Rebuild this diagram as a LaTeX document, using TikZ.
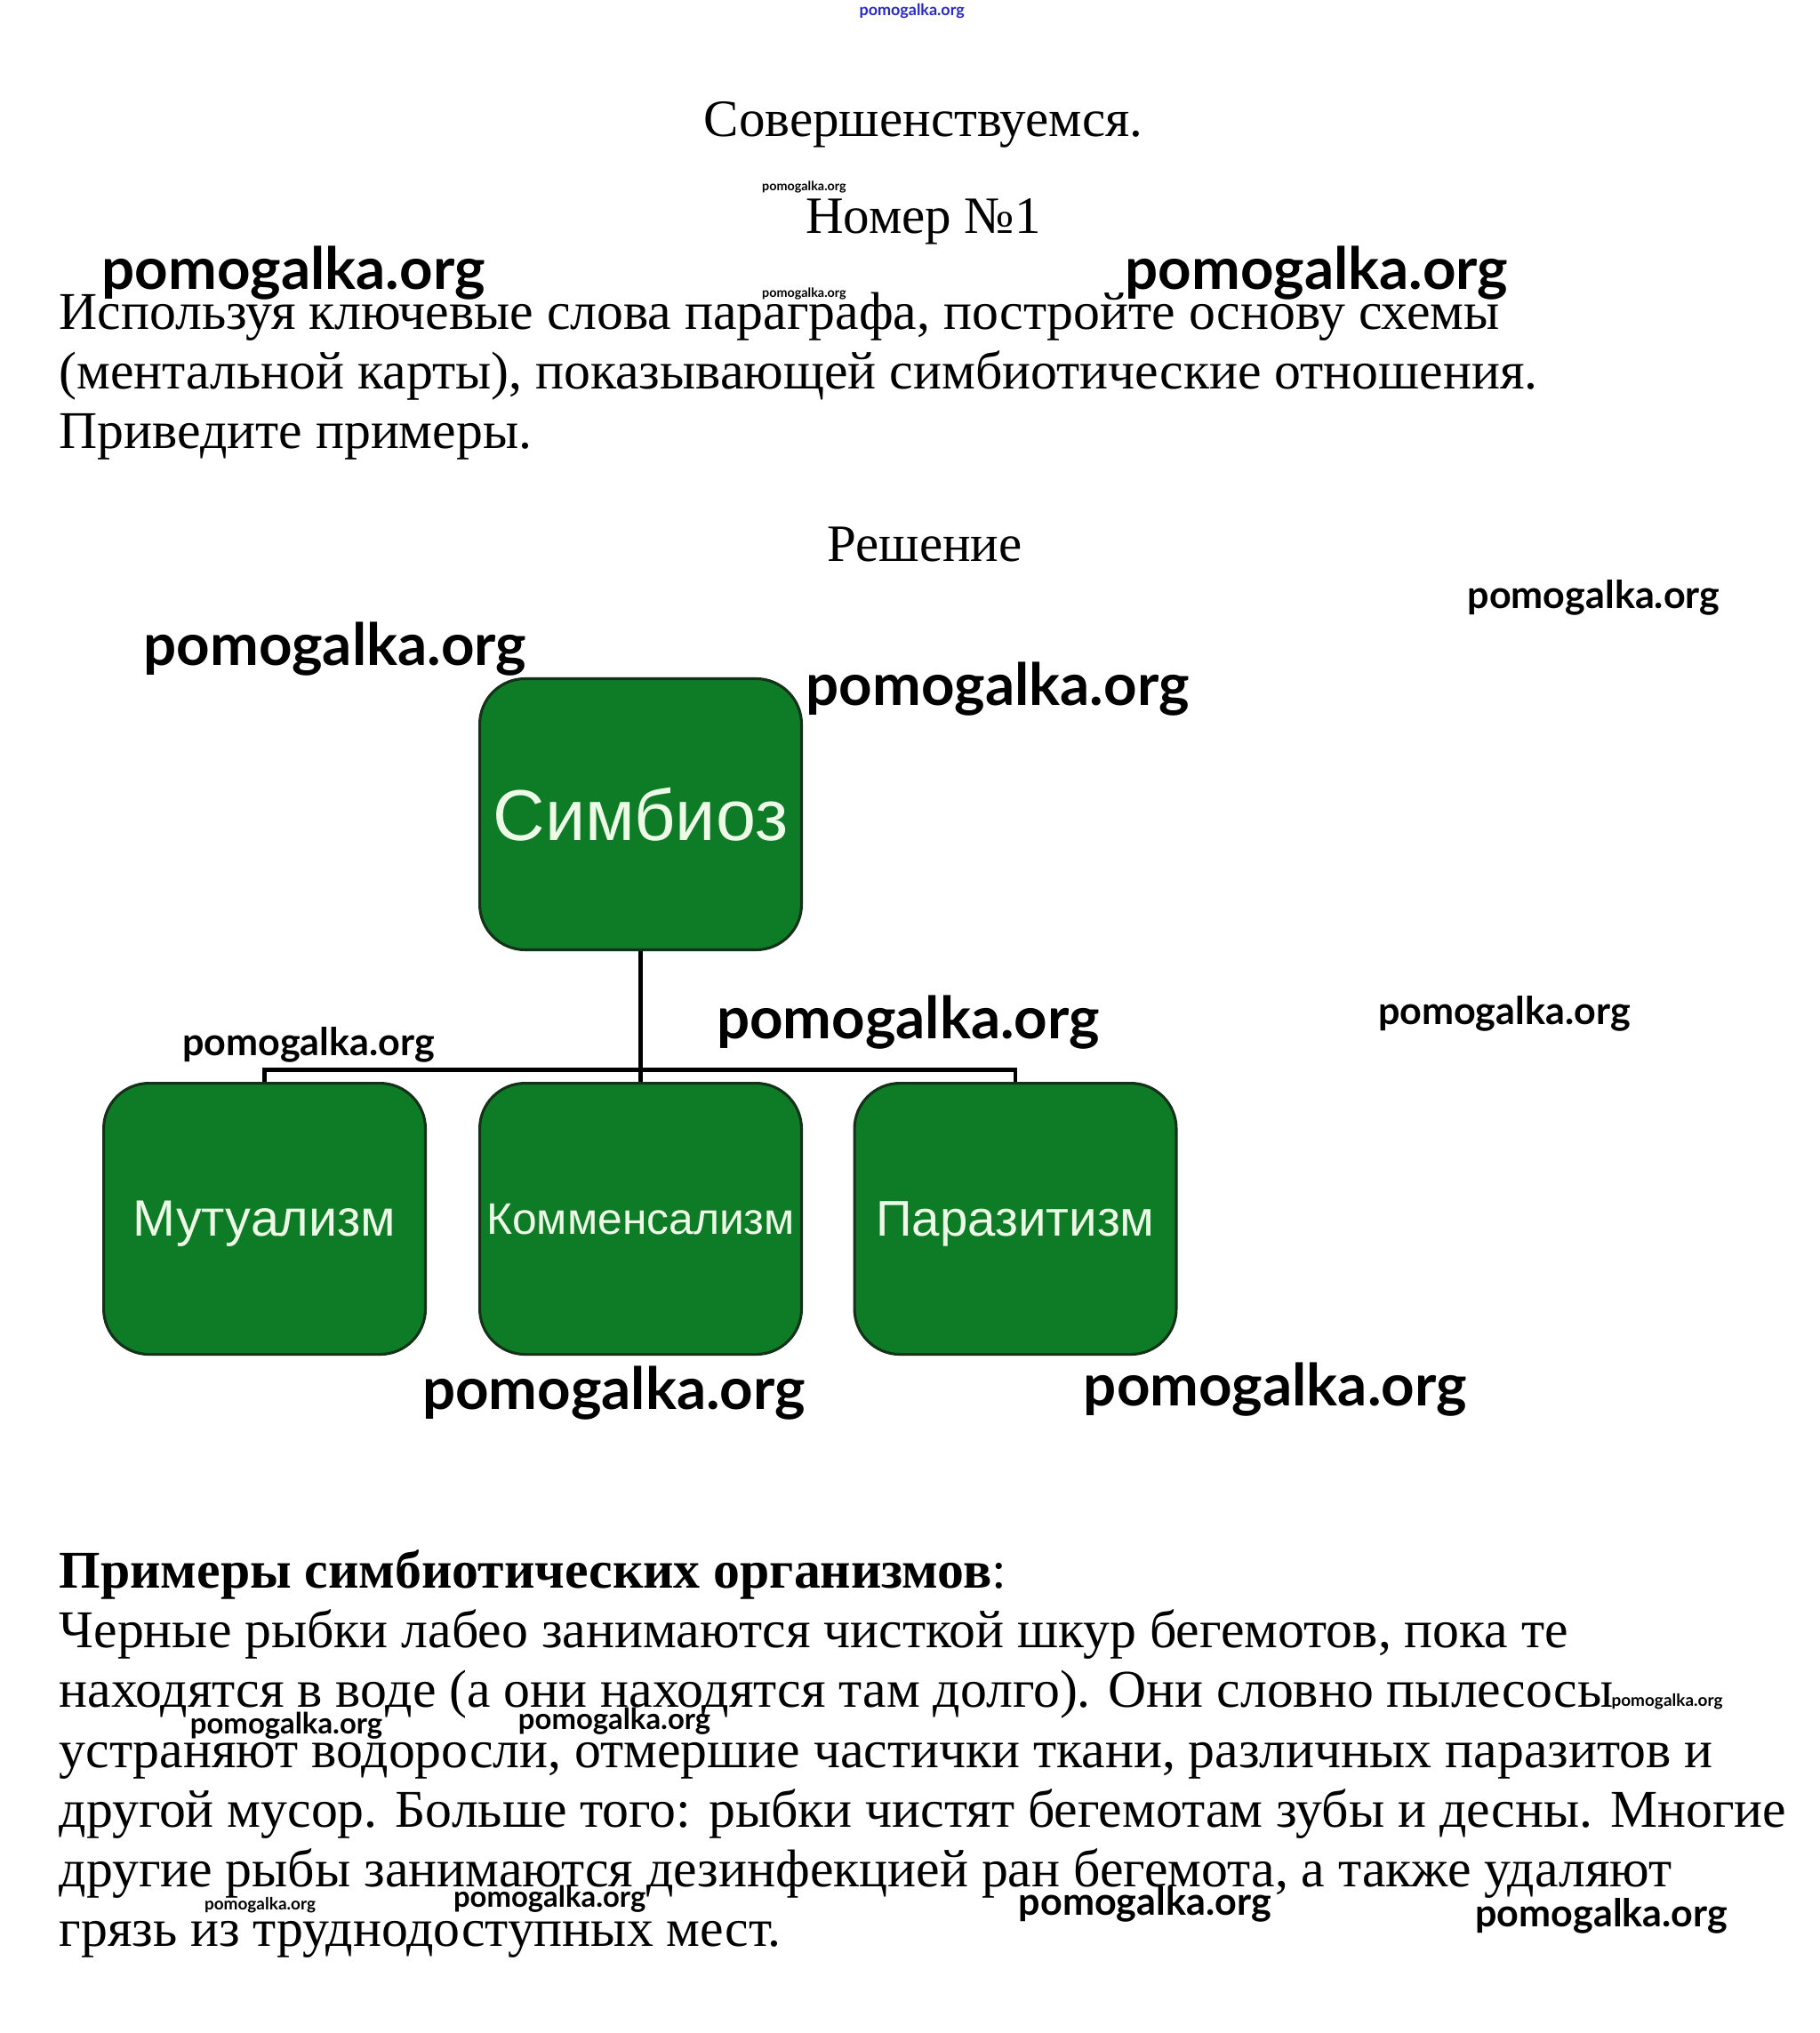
\documentclass[tikz,border=0pt]{standalone}
\usepackage{fontspec}
\setmainfont{Liberation Serif}
\newfontfamily\boxfont{Liberation Sans}
\newfontfamily\wmfont{Lato}
\usetikzlibrary{positioning}
\definecolor{boxgreen}{RGB}{14,124,38}
\definecolor{boxedge}{RGB}{20,50,25}
\definecolor{boxtext}{RGB}{236,250,230}
\definecolor{wmblue}{RGB}{40,40,200}
\tikzset{
  body/.style={anchor=base west,inner sep=0pt,font=\fontsize{11.65}{13}\selectfont},
  heading/.style={anchor=base,inner sep=0pt,font=\fontsize{11.5}{13}\selectfont},
  greenbox/.style={draw=boxedge,line width=0.6pt,fill=boxgreen,rounded corners=0.35cm,
    minimum width=2.48cm,minimum height=2.09cm,text=boxtext,inner sep=1pt,text depth=0pt},
  link/.style={line width=0.9pt},
  wm/.style={anchor=base west,inner sep=0pt,font=\wmfont\bfseries\fontsize{#1}{#1}\selectfont},
}
\begin{document}
\begin{tikzpicture}[x=0.01cm,y=-0.01cm]
    \useasboundingbox (0,0) rectangle (1403,1568);

    % Headings
    \node[heading] (title) at (712,105) {Совершенствуемся.};
    \node[heading] (number) at (712,180) {Номер №1};
    \node[heading] (solution) at (713,433) {Решение};

    % Task text
    \node[body] (task1) at (45,254) {Используя ключевые слова параграфа, постройте основу схемы};
    \node[body] (task2) at (45,300) {(ментальной карты), показывающей симбиотические отношения.};
    \node[body] (task3) at (45,346) {Приведите примеры.};

    % Boxes
    \node[greenbox,font=\boxfont\fontsize{15.8}{16}\selectfont] (simbioz) at (494,628) {Симбиоз};
    \node[greenbox,font=\boxfont\fontsize{11.2}{12}\selectfont] (mutual) at (204,940) {Мутуализм};
    \node[greenbox,font=\boxfont\fontsize{9.7}{10}\selectfont] (kommens) at (494,940) {Комменсализм};
    \node[greenbox,font=\boxfont\fontsize{11}{12}\selectfont] (parazit) at (783,940) {Паразитизм};

    % Connectors
    \coordinate (fork) at (494,825);
    \draw[link] (simbioz.south) -- (kommens.north);
    \draw[link] (mutual.north) -- (mutual.north |- fork) -- (parazit.north |- fork) -- (parazit.north);

    % Examples
    \node[body] (ex0) at (45,1225) {\textbf{Примеры симбиотических организмов}:};
    \node[body] (ex1) at (45,1271) {Черные рыбки лабео занимаются чисткой шкур бегемотов, пока те};
    \node[body] (ex2) at (45,1317) {находятся в воде (а они находятся там долго). Они словно пылесосы};
    \node[body] (ex3) at (45,1363) {устраняют водоросли, отмершие частички ткани, различных паразитов и};
    \node[body] (ex4) at (45,1409) {другой мусор. Больше того: рыбки чистят бегемотам зубы и десны. Многие};
    \node[body] (ex5) at (45,1455) {другие рыбы занимаются дезинфекцией ран бегемота, а также удаляют};
    \node[body] (ex6) at (45,1501) {грязь из труднодоступных мест.};

    % Watermarks
    \node[wm=3.5,text=wmblue] (wm1) at (662,12) {pomogalka.org};
    \node[wm=2.8] (wm2) at (587,147) {pomogalka.org};
    \node[wm=12.75] (wm3) at (78,223) {pomogalka.org};
    \node[wm=2.8] (wm4) at (587,229) {pomogalka.org};
    \node[wm=12.75] (wm5) at (867,223) {pomogalka.org};
    \node[wm=8.4] (wm6) at (1131,469) {pomogalka.org};
    \node[wm=12.75] (wm7) at (110,513) {pomogalka.org};
    \node[wm=12.75] (wm8) at (621,544) {pomogalka.org};
    \node[wm=12.75] (wm9) at (552,801) {pomogalka.org};
    \node[wm=8.4] (wm10) at (140,814) {pomogalka.org};
    \node[wm=8.4] (wm11) at (1062,790) {pomogalka.org};
    \node[wm=12.75] (wm12) at (325,1087) {pomogalka.org};
    \node[wm=12.75] (wm13) at (835,1084) {pomogalka.org};
    \node[wm=3.7] (wm14) at (1242,1316) {pomogalka.org};
    \node[wm=6.4] (wm15) at (146,1337) {pomogalka.org};
    \node[wm=6.4] (wm16) at (399,1334) {pomogalka.org};
    \node[wm=3.7] (wm17) at (157,1473) {pomogalka.org};
    \node[wm=6.4] (wm18) at (349,1471) {pomogalka.org};
    \node[wm=8.4] (wm19) at (785,1477) {pomogalka.org};
    \node[wm=8.4] (wm20) at (1137,1486) {pomogalka.org};
\end{tikzpicture}
\end{document}
